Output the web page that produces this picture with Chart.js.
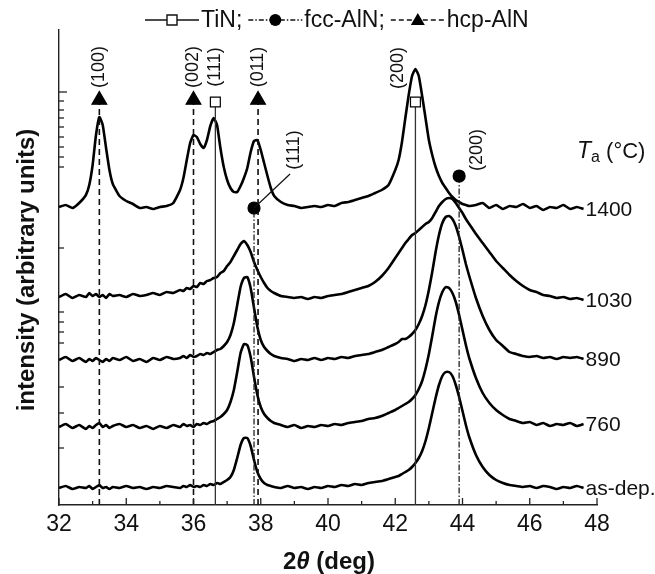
<!DOCTYPE html>
<html>
<head>
<meta charset="utf-8">
<script src="https://cdn.jsdelivr.net/npm/chart.js@4.4.1/dist/chart.umd.min.js"></script>
<style>
  html, body { margin: 0; padding: 0; background: #fff; }
</style>
</head>
<body>
<canvas id="xrd" width="655" height="574"></canvas>
<script>
// 2theta grid (deg), finer around the peaks
var angles = [32.0,32.2,32.4,32.6,32.8,
  32.9,33.0,33.1,33.2,33.3,33.4,33.5,33.6,
  33.8,34.0,34.2,34.4,34.6,34.8,35.0,35.2,35.4,
  35.6,
  35.7,35.8,35.9,36.0,36.1,36.2,36.3,36.4,36.5,36.6,36.7,36.8,36.9,37.0,37.1,37.2,37.3,37.4,37.5,37.6,37.7,37.8,37.9,38.0,38.1,38.2,38.3,38.4,
  38.6,38.8,39.0,39.2,39.4,39.6,39.8,40.0,40.2,40.4,40.6,40.8,41.0,41.2,41.4,41.6,41.8,
  42.0,42.1,42.2,42.3,42.4,42.5,42.6,42.7,42.8,42.9,43.0,43.1,43.2,43.3,43.4,43.5,43.6,43.7,43.8,43.9,44.0,44.1,44.2,
  44.4,44.6,44.8,45.0,45.2,45.4,45.6,45.8,46.0,46.2,46.4,46.6,46.8,47.0,47.2,47.4,47.6];

// intensities (arbitrary units, curves already stacked with offsets)
var int1400 = [298,300,297,302,310,
  320,340,370,388,380,357,335,321,
  309,304,301,297,298,296,298,299,302,
  315,
  327,345,362,370,368,361,357,365,379,387,380,357,338,325,317,313,313,319,327,337,353,364,365,355,342,329,317,309,
  303,300,299,297,298,299,298,300,299,302,303,305,307,309,312,315,320,
  335,345,363,387,410,429,436,429,409,387,365,350,338,329,322,317,312,308,305,303,301,300,299,
  300,302,297,300,296,299,298,301,297,299,295,298,297,300,296,298,296];

var int1030 = [208,211,207,210,208,
  212,209,211,208,210,207,211,209,
  210,208,211,209,210,212,210,213,212,
  215,
  214,217,216,219,218,222,221,224,225,227,228,232,234,239,243,249,255,261,264,260,253,243,235,228,222,217,214,212,
  209,208,207,208,206,208,207,209,210,211,213,215,217,219,223,229,237,
  247,252,257,262,266,270,272,275,278,281,283,287,293,299,303,306,307,306,302,297,292,286,281,
  271,262,253,244,237,230,224,219,215,213,210,209,207,208,206,207,205];

var int890 = [145,148,144,147,143,
  146,144,147,145,143,146,144,147,
  145,148,144,146,143,147,145,148,146,
  147,
  149,147,150,148,149,151,150,152,151,153,155,156,159,163,170,182,200,218,227,228,217,197,178,165,158,154,151,149,
  147,146,144,146,145,147,145,147,146,148,147,149,150,151,153,155,158,
  161,163,166,166,168,171,175,181,189,200,215,233,253,270,282,288,289,286,279,268,255,241,229,
  207,189,175,165,159,153,151,149,148,149,147,148,146,148,147,148,146];

var int760 = [78,81,77,80,76,
  79,77,80,82,78,80,77,79,
  81,78,80,77,79,76,79,77,80,
  78,
  81,79,80,78,81,80,82,81,83,84,86,88,91,95,103,115,133,152,161,160,148,128,110,98,91,87,84,82,
  80,78,80,77,79,78,80,79,81,80,82,83,84,86,87,89,92,
  95,97,99,101,103,106,110,116,124,136,151,169,188,203,213,218,217,212,203,190,175,160,147,
  127,112,102,95,90,86,84,82,83,80,82,79,81,80,82,79,81];

var intAsDep = [17,19,16,18,17,
  19,16,18,20,17,18,16,18,
  17,19,17,18,16,18,17,19,18,
  17,
  19,18,20,18,19,18,20,19,21,20,22,21,23,25,28,35,47,60,67,67,59,45,33,26,22,20,19,18,
  17,19,17,18,16,18,17,19,18,20,19,21,20,22,23,24,26,
  28,29,31,33,35,38,42,47,54,64,77,92,107,120,129,133,133,129,120,108,94,80,68,
  50,38,30,25,22,20,19,18,19,17,19,18,16,18,17,19,17];

var traceNames = ['1400', '1030', '890', '760', 'as-dep.'];
var traceValues = [int1400, int1030, int890, int760, intAsDep];

// reference peak positions
var tinAngles = [36.65, 42.6];
var tinHkl = ['(111)', '(200)'];
var tinLevel = [403, 403];
var fccAngles = [37.8, 43.9];
var fccHkl = ['(111)', '(200)'];
var fccLevel = [297, 329];
var hcpAngles = [33.2, 36.0, 37.92];
var hcpHkl = ['(100)', '(002)', '(011)'];
var hcpLevel = [405, 405, 405];

// y axis tick marks (no labels)
var yTickMarks = [413, 404, 395, 387, 378, 368, 358, 348, 338, 257, 193, 183, 173, 162, 118, 92, 57];

var FONT = "'Liberation Sans', Arial, sans-serif";

function pts(values) {
    return angles.map(function (a, i) { return { x: a, y: values[i] }; });
}

function refLine(angle, level, style) {
    return {
        data: [{ x: angle, y: 0 }, { x: angle, y: level }],
        borderColor: style.color,
        borderWidth: style.width,
        borderDash: style.dash,
        pointRadius: [0, style.radius],
        pointStyle: style.point,
        pointBackgroundColor: style.fill,
        pointBorderColor: '#000',
        pointBorderWidth: 1.2,
        clip: false
    };
}

var datasets = [];
tinAngles.forEach(function (a, i) {
    datasets.push(refLine(a, tinLevel[i], { color: '#333', width: 1.3, dash: [], radius: 7, point: 'rect', fill: '#fff' }));
});
fccAngles.forEach(function (a, i) {
    datasets.push(refLine(a, fccLevel[i], { color: '#222', width: 1.3, dash: [6, 2, 1.5, 2], radius: 6, point: 'circle', fill: '#000' }));
});
hcpAngles.forEach(function (a, i) {
    datasets.push(refLine(a, hcpLevel[i], { color: '#111', width: 1.6, dash: [6, 4], radius: 8.5, point: 'triangle', fill: '#000' }));
});
traceValues.forEach(function (vals) {
    datasets.push({
        data: pts(vals),
        borderColor: '#000',
        borderWidth: 2.6,
        pointRadius: 0,
        tension: 0.15
    });
});

function rotText(ctx, text, x, y) {
    ctx.save();
    ctx.translate(x, y);
    ctx.rotate(-Math.PI / 2);
    ctx.textAlign = 'center';
    ctx.textBaseline = 'middle';
    ctx.fillText(text, 0, 0);
    ctx.restore();
}

var decor = {
    id: 'decor',
    afterDraw: function (chart) {
        var ctx = chart.ctx;
        var xs = chart.scales.x, ys = chart.scales.y, area = chart.chartArea;
        ctx.save();

        // inward ticks
        ctx.strokeStyle = '#222';
        ctx.lineWidth = 1.3;
        for (var v = 32; v <= 48; v++) {
            var px = xs.getPixelForValue(v);
            var len = v % 2 === 0 ? 7 : 4;
            ctx.beginPath();
            ctx.moveTo(px, area.bottom);
            ctx.lineTo(px, area.bottom - len);
            ctx.stroke();
        }
        yTickMarks.forEach(function (t, i) {
            var py = ys.getPixelForValue(t);
            ctx.beginPath();
            ctx.moveTo(area.left, py);
            ctx.lineTo(area.left + (i === 0 ? 8 : 5), py);
            ctx.stroke();
        });

        ctx.fillStyle = '#111';

        // hkl labels
        ctx.font = '18px ' + FONT;
        hcpAngles.forEach(function (a, i) {
            rotText(ctx, hcpHkl[i], xs.getPixelForValue(a), ys.getPixelForValue(hcpLevel[i]) - 33);
        });
        rotText(ctx, tinHkl[0], xs.getPixelForValue(tinAngles[0]), ys.getPixelForValue(tinLevel[0]) - 35);
        rotText(ctx, tinHkl[1], xs.getPixelForValue(tinAngles[1]) - 17, ys.getPixelForValue(tinLevel[1]) - 34);
        var c1x = xs.getPixelForValue(fccAngles[0]), c1y = ys.getPixelForValue(fccLevel[0]);
        ctx.strokeStyle = '#111';
        ctx.lineWidth = 1.2;
        ctx.beginPath();
        ctx.moveTo(c1x, c1y);
        ctx.lineTo(c1x + 36, c1y - 34);
        ctx.stroke();
        rotText(ctx, fccHkl[0], c1x + 40, c1y - 58);
        rotText(ctx, fccHkl[1], xs.getPixelForValue(fccAngles[1]) + 18, ys.getPixelForValue(fccLevel[1]) - 26);

        // sample labels at the right end of each curve
        ctx.font = '21px ' + FONT;
        ctx.textAlign = 'left';
        ctx.textBaseline = 'middle';
        var lastA = angles[angles.length - 1];
        traceValues.forEach(function (vals, i) {
            ctx.fillText(traceNames[i], xs.getPixelForValue(lastA) + 2, ys.getPixelForValue(vals[vals.length - 1]) + 1);
        });

        // Ta (°C)
        var tx = 577, ty = 152;
        ctx.font = 'italic 23px ' + FONT;
        ctx.fillText('T', tx, ty);
        tx += ctx.measureText('T').width;
        ctx.font = '16px ' + FONT;
        ctx.fillText('a', tx, ty + 6);
        tx += ctx.measureText('a').width;
        ctx.font = '22px ' + FONT;
        ctx.fillText(' (°C)', tx, ty);

        // axis titles
        ctx.font = 'bold 24px ' + FONT;
        rotText(ctx, 'intensity (arbitrary units)', 27, 270);
        var parts = [['2', 'bold 24px '], ['θ', 'italic bold 24px '], [' (deg)', 'bold 24px ']];
        var tot = 0;
        parts.forEach(function (p) { ctx.font = p[1] + FONT; tot += ctx.measureText(p[0]).width; });
        var lx = 329 - tot / 2;
        ctx.textAlign = 'left';
        parts.forEach(function (p) {
            ctx.font = p[1] + FONT;
            ctx.fillText(p[0], lx, 562);
            lx += ctx.measureText(p[0]).width;
        });

        // legend
        var gy = 20, gx = 145;
        ctx.font = '23px ' + FONT;
        ctx.strokeStyle = '#111';
        ctx.lineWidth = 1.4;
        function seg(dash, sym) {
            ctx.setLineDash(dash);
            ctx.beginPath();
            ctx.moveTo(gx, gy);
            ctx.lineTo(gx + 54, gy);
            ctx.stroke();
            ctx.setLineDash([]);
            var cx = gx + 27;
            ctx.beginPath();
            if (sym === 'sq') {
                ctx.fillStyle = '#fff';
                ctx.rect(cx - 5, gy - 5, 10, 10);
                ctx.fill();
                ctx.stroke();
            } else if (sym === 'ci') {
                ctx.fillStyle = '#000';
                ctx.arc(cx, gy, 6, 0, Math.PI * 2);
                ctx.fill();
            } else {
                ctx.fillStyle = '#000';
                ctx.moveTo(cx, gy - 7);
                ctx.lineTo(cx + 7, gy + 5);
                ctx.lineTo(cx - 7, gy + 5);
                ctx.closePath();
                ctx.fill();
            }
            gx += 56;
        }
        function txt(s) {
            ctx.fillStyle = '#111';
            ctx.fillText(s, gx, gy + 1);
            gx += ctx.measureText(s).width + 6;
        }
        seg([], 'sq'); txt('TiN;');
        seg([5, 2, 1.5, 2], 'ci'); txt('fcc-AlN;');
        seg([5, 3], 'tr'); txt('hcp-AlN');

        ctx.restore();
    }
};

new Chart(document.getElementById('xrd'), {
    type: 'line',
    data: { datasets: datasets },
    options: {
        responsive: false,
        animation: false,
        events: [],
        layout: { padding: { top: 30, right: 58, left: 0, bottom: 0 } },
        plugins: { legend: { display: false }, tooltip: { enabled: false } },
        scales: {
            x: {
                type: 'linear',
                min: 32,
                max: 48,
                afterFit: function (s) { s.height = 69; },
                grid: { display: true, drawOnChartArea: false, drawTicks: false },
                border: { display: true, color: '#222', width: 1.4 },
                ticks: { stepSize: 2, padding: 6, color: '#111', font: { size: 23, family: FONT } }
            },
            y: {
                type: 'linear',
                min: 0,
                max: 475,
                afterFit: function (s) { s.width = 59; },
                grid: { display: true, drawOnChartArea: false, drawTicks: false },
                border: { display: true, color: '#222', width: 1.4 },
                ticks: { display: false }
            }
        }
    },
    plugins: [decor]
});
</script>
</body>
</html>
